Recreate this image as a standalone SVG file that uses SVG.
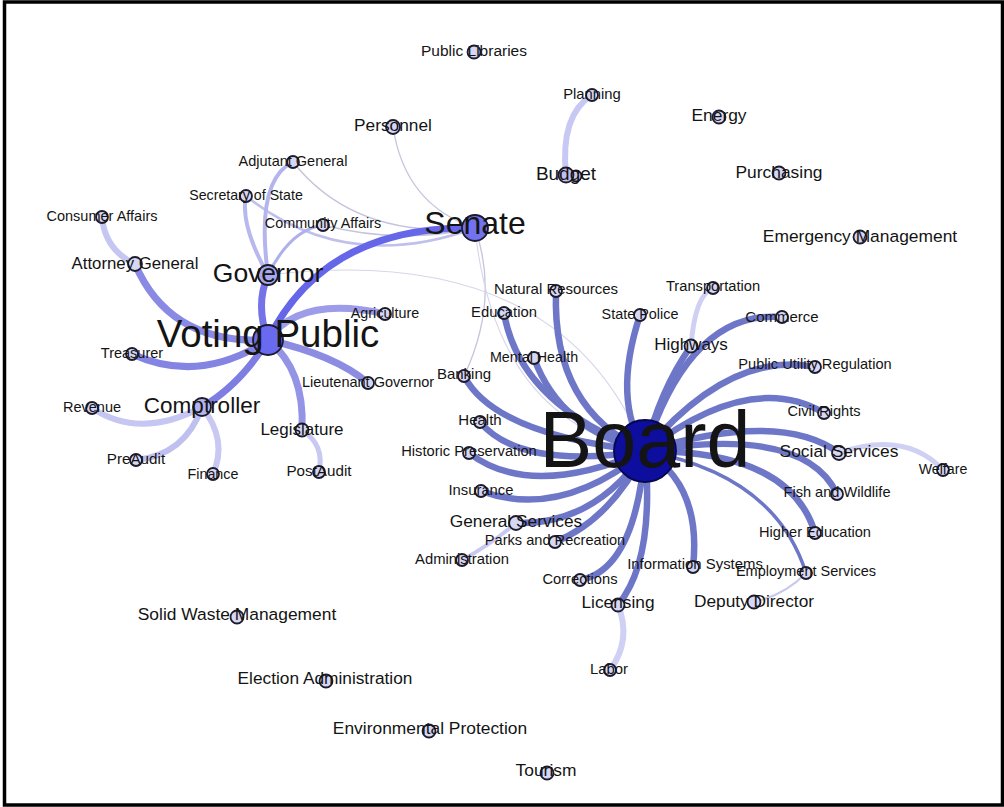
<svg xmlns="http://www.w3.org/2000/svg" width="1004" height="807" viewBox="0 0 1004 807">
<style>
.e{fill:none;stroke-linecap:round}
.eb{stroke:#6e76c8;stroke-width:6.5}
.ev{stroke-width:7}
.el{stroke:#c6c6f2;stroke-width:6}
.et{stroke:#c4c4dc;stroke-width:1.3}
.n{fill:#d6d6f5;stroke:#1c1c2c;stroke-width:1.8}
text{font-family:"Liberation Sans",Arial,sans-serif;fill:#141414;text-anchor:middle}
</style>
<rect x="4.5" y="2" width="998" height="803" fill="#ffffff" stroke="#000000" stroke-width="3.5"/>
<g id="connectors">
<path class="e et" d="M393,127 Q405,205 475,228"/>
<path class="e et" d="M293,162 Q355,240 475,228"/>
<path class="e et" d="M323,225 Q400,245 475,228"/>
<path class="e et" d="M475,228 Q500,300 464,376"/>
<path class="e" stroke="#d6d6ea" stroke-width="1.1" d="M475,228 Q495,420 645,451"/>
<path class="e" stroke="#d6d6ea" stroke-width="1.1" d="M268,275 Q560,240 645,451"/>
<path class="e" stroke="#c0c0ea" stroke-width="2.5" d="M246,196 Q345,275 475,228"/>
<path class="e el" d="M102,217 Q105,250 135,264"/>
<path class="e" stroke="#b4b4ee" stroke-width="4" d="M268,275 Q255,180 293,162"/>
<path class="e" stroke="#b8b8ee" stroke-width="4" d="M268,275 Q240,225 246,196"/>
<path class="e" stroke="#b0b0ec" stroke-width="3" d="M268,275 Q290,230 323,225"/>
<path class="e el" d="M202,407 Q140,440 92,408"/>
<path class="e" stroke="#c0c0f0" stroke-width="6" d="M202,407 Q185,455 136,460"/>
<path class="e" stroke="#c8c8f2" stroke-width="6" d="M202,407 Q228,440 213,474"/>
<path class="e" stroke="#c8c8f2" stroke-width="5" d="M302,430 Q325,445 319,472"/>
<path class="e" stroke="#c8c8f4" stroke-width="6" d="M592,95 Q560,115 566,175"/>
<path class="e" stroke="#d0d0f4" stroke-width="5" d="M713,288 Q695,295 691,346"/>
<path class="e" stroke="#d0d0f4" stroke-width="5" d="M839,453 Q905,430 943,470"/>
<path class="e" stroke="#d0d0f4" stroke-width="6" d="M618,605 Q632,640 610,670"/>
<path class="e" stroke="#c8c8f0" stroke-width="4" d="M462,560 Q490,545 516,523"/>
<path class="e" stroke="#c8c8ec" stroke-width="2" d="M754,602 Q785,595 806,573"/>
<path class="e ev" stroke="#9c9ce8" d="M385,314 Q300,295 268,340"/>
<path class="e ev" stroke="#8c8ce2" d="M368,383 Q335,355 268,340"/>
<path class="e ev" stroke="#9494e6" d="M302,430 Q305,370 268,340"/>
<path class="e ev" stroke="#7e7ee2" d="M202,407 Q240,385 268,340"/>
<path class="e ev" stroke="#8484e2" d="M132,354 Q200,385 268,340"/>
<path class="e ev" stroke="#8a8ae4" d="M135,264 Q170,345 268,340"/>
<path class="e ev" stroke="#7474e8" d="M268,275 Q255,305 268,340"/>
<path class="e ev" stroke="#6666e8" d="M475,228 Q325,225 268,340"/>
<path class="e eb" d="M556,291 Q552,410 645,451"/>
<path class="e eb" d="M504,313 Q520,405 645,451"/>
<path class="e eb" d="M534,358 Q560,430 645,451"/>
<path class="e eb" d="M464,376 Q495,435 645,451"/>
<path class="e eb" d="M480,422 Q520,470 645,451"/>
<path class="e eb" d="M469,453 Q530,500 645,451"/>
<path class="e eb" d="M481,491 Q560,520 645,451"/>
<path class="e eb" d="M516,523 Q595,525 645,451"/>
<path class="e eb" d="M555,542 Q610,520 645,451"/>
<path class="e eb" d="M580,580 Q635,570 645,451"/>
<path class="e eb" d="M618,605 Q655,560 645,451"/>
<path class="e eb" d="M693,567 Q702,485 645,451"/>
<path class="e" stroke="#6e76c8" stroke-width="3.5" d="M806,573 Q775,475 645,451"/>
<path class="e eb" d="M815,533 Q790,450 645,451"/>
<path class="e eb" d="M837,494 Q805,425 645,451"/>
<path class="e eb" d="M839,453 Q780,410 645,451"/>
<path class="e eb" d="M824,413 Q750,370 645,451"/>
<path class="e eb" d="M815,367 Q730,350 645,451"/>
<path class="e eb" d="M782,317 Q690,310 645,451"/>
<path class="e eb" d="M691,346 Q660,390 645,451"/>
<path class="e eb" d="M640,315 Q612,400 645,451"/>
</g>
<g id="public-libraries"><circle class="n" cx="474" cy="52" r="6.5"/><text x="474" y="56" font-size="15.5">Public Libraries</text></g>
<g id="planning"><circle class="n" cx="592" cy="95" r="6"/><text x="592" y="99" font-size="14.8">Planning</text></g>
<g id="personnel"><circle class="n" cx="393" cy="127" r="7"/><text x="393" y="131" font-size="17.3">Personnel</text></g>
<g id="budget"><circle class="n" cx="576" cy="176" r="5.5" style="fill:#c8c8f2"/><circle class="n" cx="566" cy="175" r="7.5" style="fill:#c0c0f0"/><text x="566" y="180" font-size="19">Budget</text></g>
<g id="energy"><circle class="n" cx="719" cy="117" r="6.5"/><text x="719" y="121" font-size="17.4">Energy</text></g>
<g id="purchasing"><circle class="n" cx="779" cy="173" r="6.5"/><text x="779" y="178" font-size="17.4">Purchasing</text></g>
<g id="emergency-management"><circle class="n" cx="860" cy="237" r="6.5"/><text x="860" y="242" font-size="17.4">Emergency Management</text></g>
<g id="adjutant-general"><circle class="n" cx="293" cy="162" r="6"/><text x="293" y="165.5" font-size="14.5">Adjutant General</text></g>
<g id="secretary-of-state"><circle class="n" cx="246" cy="196" r="6"/><text x="246" y="200" font-size="14.2">Secretary of State</text></g>
<g id="community-affairs"><circle class="n" cx="323" cy="225" r="6"/><text x="323" y="227.5" font-size="14.4">Community Affairs</text></g>
<g id="consumer-affairs"><circle class="n" cx="102" cy="217" r="6"/><text x="102" y="221" font-size="14.5">Consumer Affairs</text></g>
<g id="attorney-general"><circle class="n" cx="135" cy="264" r="7"/><text x="135" y="269" font-size="16.8">Attorney General</text></g>
<g id="governor"><circle class="n" cx="268" cy="275" r="10" style="fill:#a8a8f0"/><text x="268" y="282" font-size="26.5">Governor</text></g>
<g id="voting-public"><circle class="n" cx="268" cy="340" r="15" style="fill:#6a6af0"/><text x="268" y="347" font-size="38.5">Voting Public</text></g>
<g id="agriculture"><circle class="n" cx="385" cy="314" r="6"/><text x="385" y="318" font-size="14.3">Agriculture</text></g>
<g id="treasurer"><circle class="n" cx="132" cy="354" r="6"/><text x="132" y="358" font-size="14.5">Treasurer</text></g>
<g id="lieutenant-governor"><circle class="n" cx="368" cy="383" r="6"/><text x="368" y="387" font-size="14.5">Lieutenant Governor</text></g>
<g id="comptroller"><circle class="n" cx="202" cy="407" r="9" style="fill:#b4b4f0"/><text x="202" y="412.5" font-size="22.5">Comptroller</text></g>
<g id="revenue"><circle class="n" cx="92" cy="408" r="6"/><text x="92" y="411.5" font-size="14.5">Revenue</text></g>
<g id="legislature"><circle class="n" cx="302" cy="430" r="6.5"/><text x="302" y="434.5" font-size="17">Legislature</text></g>
<g id="preaudit"><circle class="n" cx="136" cy="460" r="6"/><text x="136" y="464" font-size="15.2">PreAudit</text></g>
<g id="finance"><circle class="n" cx="213" cy="474" r="6"/><text x="213" y="479" font-size="14.3">Finance</text></g>
<g id="postaudit"><circle class="n" cx="319" cy="472" r="6"/><text x="319" y="476" font-size="15.2">PostAudit</text></g>
<g id="senate"><circle class="n" cx="475" cy="228" r="13" style="fill:#7272ee"/><text x="475" y="234" font-size="32">Senate</text></g>
<g id="board"><circle class="n" cx="645" cy="451" r="31" style="fill:#0e0e9e;stroke:#06064a"/><text x="645" y="467" font-size="79">Board</text></g>
<g id="natural-resources"><circle class="n" cx="556" cy="291" r="6"/><text x="556" y="294" font-size="15">Natural Resources</text></g>
<g id="education"><circle class="n" cx="504" cy="313" r="6"/><text x="504" y="317" font-size="14.8">Education</text></g>
<g id="state-police"><circle class="n" cx="640" cy="315" r="6"/><text x="640" y="319" font-size="14.4">State Police</text></g>
<g id="transportation"><circle class="n" cx="713" cy="288" r="6"/><text x="713" y="291" font-size="14.7">Transportation</text></g>
<g id="highways"><circle class="n" cx="691" cy="346" r="6.5"/><text x="691" y="350" font-size="17">Highways</text></g>
<g id="commerce"><circle class="n" cx="782" cy="317" r="6"/><text x="782" y="322" font-size="15">Commerce</text></g>
<g id="mental-health"><circle class="n" cx="534" cy="358" r="6"/><text x="534" y="361.5" font-size="14.3">Mental Health</text></g>
<g id="banking"><circle class="n" cx="464" cy="376" r="6"/><text x="464" y="378.5" font-size="15">Banking</text></g>
<g id="public-utility-regulation"><circle class="n" cx="815" cy="367" r="6"/><text x="815" y="368.5" font-size="14.6">Public Utility Regulation</text></g>
<g id="civil-rights"><circle class="n" cx="824" cy="413" r="6"/><text x="824" y="415.5" font-size="14.6">Civil Rights</text></g>
<g id="health"><circle class="n" cx="480" cy="422" r="6"/><text x="480" y="425" font-size="15">Health</text></g>
<g id="historic-preservation"><circle class="n" cx="469" cy="453" r="6"/><text x="469" y="456" font-size="14.7">Historic Preservation</text></g>
<g id="social-services"><circle class="n" cx="839" cy="453" r="7"/><text x="839" y="457" font-size="17.4">Social Services</text></g>
<g id="welfare"><circle class="n" cx="943" cy="470" r="6"/><text x="943" y="473.5" font-size="14.2">Welfare</text></g>
<g id="fish-and-wildlife"><circle class="n" cx="837" cy="494" r="6"/><text x="837" y="497" font-size="14.6">Fish and Wildlife</text></g>
<g id="insurance"><circle class="n" cx="481" cy="491" r="6"/><text x="481" y="495" font-size="14.8">Insurance</text></g>
<g id="general-services"><circle class="n" cx="516" cy="523" r="7"/><text x="516" y="527" font-size="17.3">General Services</text></g>
<g id="parks-and-recreation"><circle class="n" cx="555" cy="542" r="6"/><text x="555" y="544.5" font-size="14.6">Parks and Recreation</text></g>
<g id="administration"><circle class="n" cx="462" cy="560" r="6"/><text x="462" y="563.5" font-size="14.8">Administration</text></g>
<g id="corrections"><circle class="n" cx="580" cy="580" r="6"/><text x="580" y="584" font-size="14.7">Corrections</text></g>
<g id="licensing"><circle class="n" cx="618" cy="605" r="6.5"/><text x="618" y="608" font-size="17.3">Licensing</text></g>
<g id="information-systems"><circle class="n" cx="693" cy="567" r="6"/><text x="695" y="568.5" font-size="14.9">Information Systems</text></g>
<g id="higher-education"><circle class="n" cx="815" cy="533" r="6"/><text x="815" y="537" font-size="14.6">Higher Education</text></g>
<g id="employment-services"><circle class="n" cx="806" cy="573" r="6"/><text x="806" y="576" font-size="14.5">Employment Services</text></g>
<g id="deputy-director"><circle class="n" cx="754" cy="602" r="6.5"/><text x="754" y="607" font-size="17.3">Deputy Director</text></g>
<g id="labor"><circle class="n" cx="610" cy="670" r="6"/><text x="609" y="674" font-size="14.9">Labor</text></g>
<g id="solid-waste-management"><circle class="n" cx="237" cy="617" r="6.5"/><text x="237" y="619.5" font-size="17.4">Solid Waste Management</text></g>
<g id="election-administration"><circle class="n" cx="326" cy="681" r="6.5"/><text x="325" y="683.5" font-size="17.3">Election Administration</text></g>
<g id="environmental-protection"><circle class="n" cx="429" cy="731" r="6.5"/><text x="430" y="734" font-size="17.4">Environmental Protection</text></g>
<g id="tourism"><circle class="n" cx="547" cy="773" r="6.5"/><text x="546" y="775.5" font-size="17.4">Tourism</text></g>
</svg>
